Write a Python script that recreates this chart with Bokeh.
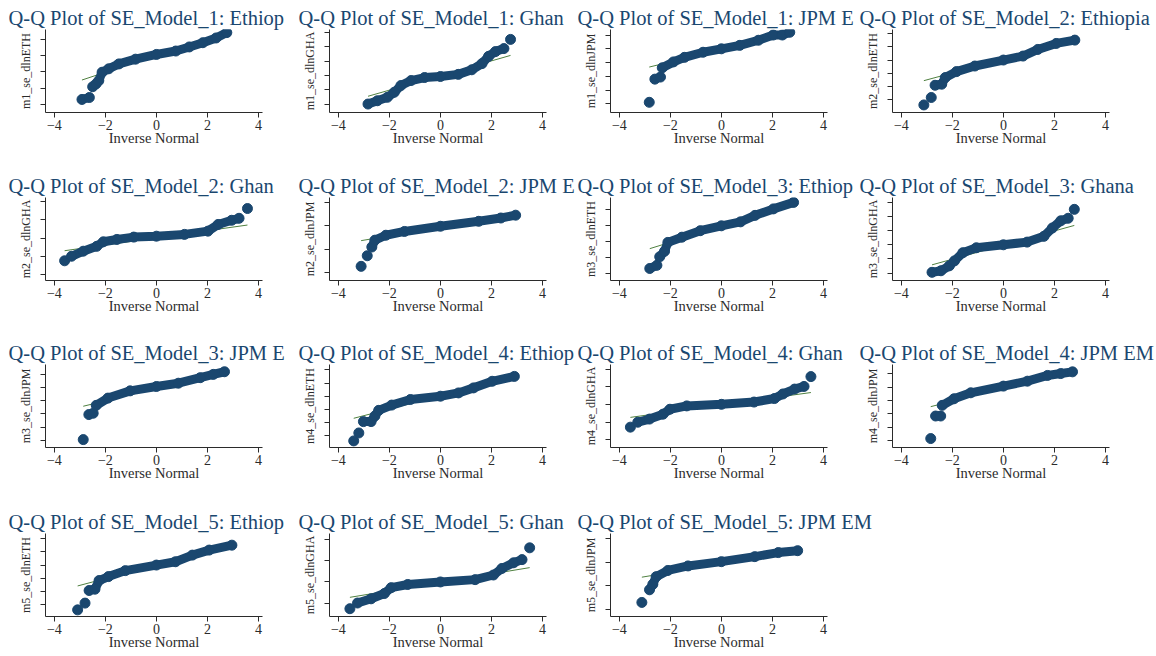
import numpy as np
from bokeh.plotting import figure
from bokeh.layouts import column, row
from bokeh.models import FixedTicker, Range1d
from bokeh.embed import file_html
from bokeh.resources import INLINE

# ---------------- data (None separates isolated points) ---------------
x_ticks = [-4, -2, 0, 2, 4]

# titles as they are visible in the reference (each is cut by its neighbour panel)
titles = [
    "Q-Q Plot of SE_Model_1: Ethiop", "Q-Q Plot of SE_Model_1: Ghan", "Q-Q Plot of SE_Model_1: JPM E",
    "Q-Q Plot of SE_Model_2: Ethiopia", "Q-Q Plot of SE_Model_2: Ghan", "Q-Q Plot of SE_Model_2: JPM E",
    "Q-Q Plot of SE_Model_3: Ethiop", "Q-Q Plot of SE_Model_3: Ghana", "Q-Q Plot of SE_Model_3: JPM E",
    "Q-Q Plot of SE_Model_4: Ethiop", "Q-Q Plot of SE_Model_4: Ghan", "Q-Q Plot of SE_Model_4: JPM EM",
    "Q-Q Plot of SE_Model_5: Ethiop", "Q-Q Plot of SE_Model_5: Ghan", "Q-Q Plot of SE_Model_5: JPM EM",
]
y_labels = [
    "m1_se_dlnETH", "m1_se_dlnGHA", "m1_se_dlnJPM",
    "m2_se_dlnETH", "m2_se_dlnGHA", "m2_se_dlnJPM",
    "m3_se_dlnETH", "m3_se_dlnGHA", "m3_se_dlnJPM",
    "m4_se_dlnETH", "m4_se_dlnGHA", "m4_se_dlnJPM",
    "m5_se_dlnETH", "m5_se_dlnGHA", "m5_se_dlnJPM",
]

m1_eth_x = [-2.92, -2.63, None, -2.50, -2.37, -2.26, -2.13, -1.87, -1.47, -0.82, 0, 0.76, 1.29, 1.82, 2.34, 2.76]
m1_eth_y = [0.31, 0.43, None, 1.09, 1.26, 1.46, 1.98, 2.19, 2.49, 2.78, 3.07, 3.28, 3.53, 3.79, 4.08, 4.41]
m1_gha_x = [-2.84, -2.47, -2.08, -1.81, -1.55, -1.15, -0.62, 0, 0.70, 1.23, 1.63, 1.89, 2.16, 2.49, None, 2.75]
m1_gha_y = [0.0, 0.23, 0.47, 0.82, 1.29, 1.64, 1.85, 1.92, 2.07, 2.39, 2.82, 3.33, 3.66, 3.87, None, 4.51]
m1_jpm_x = [-2.83, None, -2.61, -2.39, None, -2.32, -1.88, -1.45, -0.72, 0, 0.72, 1.45, 2.03, 2.39, 2.68]
m1_jpm_y = [0.12, None, 1.80, 1.95, None, 2.62, 3.05, 3.38, 3.75, 4.0, 4.25, 4.62, 5.0, 5.0, 5.2]

m2_eth_x = [-3.12, None, -2.83, None, -2.68, -2.42, -2.28, -1.84, -1.12, 0, 0.77, 1.35, 2.07, 2.80]
m2_eth_y = [-0.38, None, 0.18, None, 1.10, 1.18, 1.68, 2.13, 2.55, 3.0, 3.3, 3.8, 4.25, 4.5]
m2_gha_x = [-3.60, None, -3.33, -2.87, -2.34, -2.08, -1.55, -0.89, 0, 1.10, 2.02, 2.42, 2.95, 3.24, None, 3.57]
m2_gha_y = [0.74, None, 0.99, 1.27, 1.54, 1.79, 1.92, 2.05, 2.10, 2.20, 2.38, 2.75, 2.98, 3.09, None, 3.63]
m2_jpm_x = [-3.11, None, -2.87, None, -2.69, -2.57, -2.14, -1.41, 0, 1.50, 2.37, 2.95]
m2_jpm_y = [0.28, None, 0.73, None, 1.10, 1.39, 1.60, 1.76, 1.98, 2.19, 2.33, 2.45]

m3_eth_x = [-2.81, -2.53, None, -2.42, -2.23, -2.10, -1.55, -0.83, 0, 0.75, 1.32, 2.04, 2.83]
m3_eth_y = [0.29, 0.49, None, 1.03, 1.38, 1.94, 2.27, 2.68, 2.99, 3.24, 3.65, 4.06, 4.47]
m3_gha_x = [-2.80, -2.45, -2.12, -1.92, -1.59, -1.06, 0, 0.93, 1.59, 1.92, 2.25, 2.54, None, 2.78]
m3_gha_y = [0.05, 0.16, 0.51, 0.86, 1.44, 1.79, 2.0, 2.19, 2.60, 3.19, 3.70, 3.88, None, 4.51]
m3_jpm_x = [-2.87, None, -2.65, -2.48, None, -2.36, -1.90, -1.03, 0, 0.86, 1.72, 2.23, 2.67]
m3_jpm_y = [0.05, None, 1.95, 2.05, None, 2.65, 3.20, 3.75, 4.08, 4.33, 4.75, 5.0, 5.2]

m4_eth_x = [-3.40, None, -3.20, None, -3.02, -2.72, -2.57, -2.42, -1.91, -1.18, 0, 0.71, 1.30, 2.03, 2.90]
m4_eth_y = [-0.38, None, 0.22, None, 1.08, 1.08, 1.50, 1.93, 2.33, 2.75, 3.0, 3.25, 3.63, 4.13, 4.50]
m4_gha_x = [-3.57, None, -3.28, -2.82, -2.29, -2.02, -1.36, 0, 1.28, 2.08, 2.41, 2.87, 3.24, None, 3.51]
m4_gha_y = [0.71, None, 0.99, 1.17, 1.45, 1.73, 1.92, 2.01, 2.14, 2.34, 2.60, 2.88, 3.03, None, 3.59]
m4_jpm_x = [-2.85, None, -2.66, -2.46, None, -2.40, -1.94, -1.28, 0, 0.94, 1.73, 2.25, 2.71]
m4_jpm_y = [0.15, None, 1.84, 1.84, None, 2.64, 3.13, 3.58, 4.08, 4.45, 4.88, 5.02, 5.15]

m5_eth_x = [-3.09, None, -2.80, None, -2.64, -2.41, -2.25, -1.88, -1.22, 0, 0.75, 1.41, 2.07, 2.96]
m5_eth_y = [-0.38, None, 0.13, None, 1.08, 1.18, 1.83, 2.13, 2.58, 3.0, 3.25, 3.75, 4.13, 4.5]
m5_gha_x = [-3.55, None, -3.25, -2.72, -2.20, -1.93, -1.28, 0, 1.36, 2.08, 2.41, 2.87, 3.20, None, 3.50]
m5_gha_y = [-0.27, None, 0.0, 0.20, 0.45, 0.73, 0.88, 1.0, 1.11, 1.33, 1.64, 1.91, 2.06, None, 2.62]
m5_jpm_x = [-3.12, None, -2.82, -2.69, -2.56, -2.10, -1.31, 0, 1.31, 2.23, 2.99]
m5_jpm_y = [0.31, None, 0.84, 1.07, 1.39, 1.65, 1.84, 2.02, 2.23, 2.40, 2.48]

# reference line: intercept, slope
fit_intercept = [3.02, 1.99, 3.95, 3.07, 2.01, 1.93, 2.95, 1.98, 3.93, 3.03, 1.98, 3.91, 3.00, 0.98, 1.93]
fit_slope = [0.52, 0.51, 0.45, 0.52, 0.198, 0.18, 0.50, 0.50, 0.47, 0.50, 0.20, 0.48, 0.51, 0.20, 0.18]
# y axis extent and number of y ticks
y_low = [-0.49, -0.59, -0.62, -0.95, -0.35, -0.32, -0.47, -0.53, -0.55, -0.88, -0.45, -0.52, -0.88, -0.64, -0.28]
y_high = [4.6, 5.2, 5.4, 5.3, 4.24, 3.2, 4.78, 5.35, 5.75, 5.4, 4.28, 5.7, 5.38, 3.3, 3.2]
y_ntick = [5, 6, 6, 6, 5, 4, 5, 6, 6, 6, 5, 6, 6, 4, 4]

series_x = [m1_eth_x, m1_gha_x, m1_jpm_x, m2_eth_x, m2_gha_x, m2_jpm_x, m3_eth_x, m3_gha_x, m3_jpm_x,
            m4_eth_x, m4_gha_x, m4_jpm_x, m5_eth_x, m5_gha_x, m5_jpm_x]
series_y = [m1_eth_y, m1_gha_y, m1_jpm_y, m2_eth_y, m2_gha_y, m2_jpm_y, m3_eth_y, m3_gha_y, m3_jpm_y,
            m4_eth_y, m4_gha_y, m4_jpm_y, m5_eth_y, m5_gha_y, m5_jpm_y]

# ---------------- styling / layout ----------------
NAVY = "#1a476f"
GREEN = "#4f8040"
TEXT = "#2b2b2b"
SERIF = "Liberation Serif"
FRAME_W = 217
FRAME_H = 83
BOTTOM = 36

col_left = [45, 31, 33, 34]           # frame offset inside each figure
col_title_off = [-37, -31, -33, -33]  # title start relative to the frame
col_width = [298, 279, 281, 296]
row_top = [29, 49, 48, 50]
last_row_widths = [298, 279, 300]


def make_panel(i, width, left, title_off, top):
    xs = np.array(series_x[i], dtype=float)
    ys = np.array(series_y[i], dtype=float)
    p = figure(width=width, height=top + FRAME_H + BOTTOM, output_backend="svg", toolbar_location=None,
               x_range=Range1d(-4.35, 4.16), y_range=Range1d(y_low[i], y_high[i]),
               min_border_left=left, min_border_right=width - left - FRAME_W,
               min_border_top=top, min_border_bottom=BOTTOM,
               background_fill_color="white", border_fill_color="white")
    p.title.text = titles[i]
    p.title.text_font = SERIF
    p.title.text_font_size = "20.5px"
    p.title.text_font_style = "normal"
    p.title.text_color = NAVY
    p.title.align = "left"
    p.title.offset = title_off
    p.title.standoff = 2

    xmin, xmax = np.nanmin(xs), np.nanmax(xs)
    p.line([xmin, xmax], [fit_intercept[i] + fit_slope[i] * xmin, fit_intercept[i] + fit_slope[i] * xmax],
           line_color=GREEN, line_width=1)
    p.line(xs, ys, line_width=9, line_color=NAVY, line_cap="round", line_join="round")
    p.scatter(xs, ys, size=10, fill_color=NAVY, line_color=NAVY)

    p.grid.visible = False
    p.outline_line_color = None
    p.xaxis.ticker = FixedTicker(ticks=x_ticks)
    p.xaxis.minor_tick_line_color = None
    p.xaxis.major_label_text_font = SERIF
    p.xaxis.major_label_text_font_size = "14px"
    p.xaxis.major_label_text_color = TEXT
    p.xaxis.major_label_standoff = 2
    p.xaxis.axis_label = "Inverse Normal"
    p.xaxis.axis_label_text_font = SERIF
    p.xaxis.axis_label_text_font_size = "14.5px"
    p.xaxis.axis_label_text_font_style = "normal"
    p.xaxis.axis_label_text_color = TEXT
    p.xaxis.axis_label_standoff = -3
    p.xaxis.major_tick_out = 5
    p.xaxis.major_tick_in = 0

    p.yaxis.ticker = FixedTicker(ticks=list(range(y_ntick[i])))
    p.yaxis.minor_tick_line_color = None
    p.yaxis.major_label_text_font_size = "1px"
    p.yaxis.major_label_text_color = None
    p.yaxis.major_tick_out = 5
    p.yaxis.major_tick_in = 0
    p.yaxis.axis_label = y_labels[i]
    p.yaxis.axis_label_text_font = SERIF
    p.yaxis.axis_label_text_font_size = "12px"
    p.yaxis.axis_label_text_font_style = "normal"
    p.yaxis.axis_label_text_color = TEXT
    p.yaxis.axis_label_standoff = 8
    for ax in (p.xaxis, p.yaxis):
        ax.axis_line_color = TEXT
        ax.major_tick_line_color = TEXT
    return p


rows = []
k = 0
for r in range(4):
    n = 4 if r < 3 else 3
    items = []
    for c in range(n):
        w = col_width[c] if r < 3 else last_row_widths[c]
        items.append(make_panel(k, w, col_left[c], col_title_off[c], row_top[r]))
        k += 1
    rows.append(row(*items, spacing=0))

layout = column(*rows, spacing=0)
open("out.html", "w").write(file_html(layout, INLINE))
